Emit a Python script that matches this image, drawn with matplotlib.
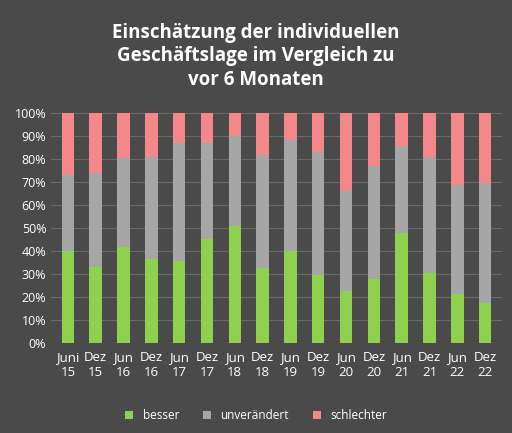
import matplotlib.pyplot as plt
import numpy as np

cats = ["Juni\n15","Dez\n15","Jun\n16","Dez\n16","Jun\n17","Dez\n17","Jun\n18","Dez\n18",
        "Jun\n19","Dez\n19","Jun\n20","Dez\n20","Jun\n21","Dez\n21","Jun\n22","Dez\n22"]
besser = [40, 33, 42, 36.5, 35.5, 45.5, 51, 32.5, 40, 29.5, 22.5, 28, 48, 30.5, 21.5, 17.5]
top_unv = [73, 74, 80.5, 81, 87, 87, 90, 82, 88.5, 83, 66, 77, 86, 81, 69, 69.5]
unveraendert = [t - b for t, b in zip(top_unv, besser)]
schlechter = [100 - t for t in top_unv]

plt.rcParams['font.family'] = ['Open Sans', 'DejaVu Sans']
fig = plt.figure(figsize=(5.12, 4.33), dpi=100)
fig.patch.set_facecolor("#4a4a4a")
ax = fig.add_axes([0.1, 0.208, 0.88, 0.53])
ax.set_facecolor("#4a4a4a")
x = np.arange(len(cats))
w = 0.45
ax.bar(x, besser, w, color="#8fd14f", label="besser")
ax.bar(x, unveraendert, w, bottom=besser, color="#a6a6a6", label="unverändert")
ax.bar(x, schlechter, w, bottom=top_unv, color="#f4878a", label="schlechter")
ax.set_ylim(0, 100)
ax.set_xlim(-0.6, len(cats) - 0.4)
ax.set_yticks(range(0, 101, 10))
ax.set_yticklabels([f"{v}%" for v in range(0, 101, 10)], color="white", fontsize=9)
ax.set_xticks(x)
ax.set_xticklabels(cats, color="white", fontsize=9.5)
ax.yaxis.grid(True, color="#6a6a6a", lw=0.8)
ax.set_axisbelow(True)
for s in ax.spines.values():
    s.set_visible(False)
ax.tick_params(length=0)
ax.tick_params(axis='x', pad=6)
fig.text(0.5, 0.87, "Einschätzung der individuellen\nGeschäftslage im Vergleich zu\nvor 6 Monaten",
         ha="center", va="center", color="white", fontsize=13.5, fontweight="bold", linespacing=1.25)
fig.legend(loc="lower center", bbox_to_anchor=(0.5, 0.0), ncol=3, frameon=False,
           labelcolor="white", fontsize=8.5, handlelength=0.7, handleheight=0.7)
fig.savefig("out.png", dpi=100, facecolor=fig.get_facecolor())
